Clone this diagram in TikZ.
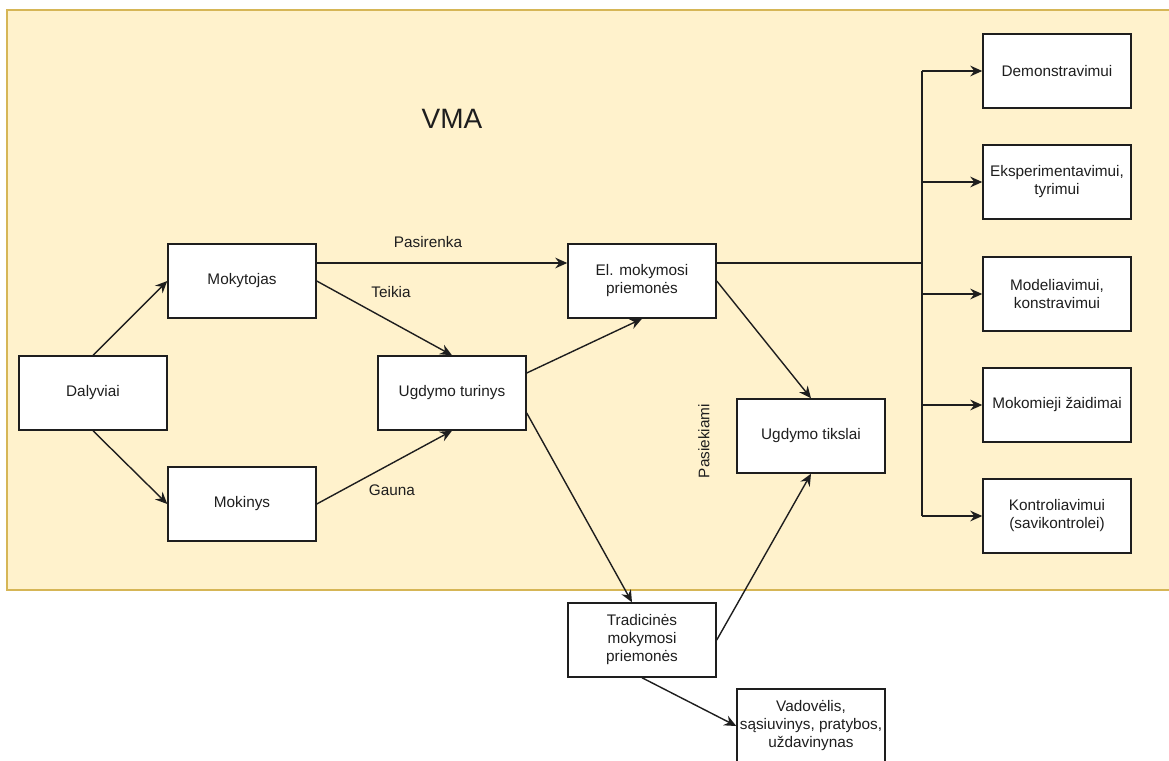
\documentclass[tikz,border=0pt]{standalone}
\usepackage{fontspec}
\setmainfont{Liberation Sans}
\usetikzlibrary{arrows.meta}
\definecolor{panelfill}{HTML}{FFF2CC}
\definecolor{panelline}{HTML}{D6B656}
\definecolor{ink}{HTML}{1E1E1E}
\begin{document}
\begin{tikzpicture}[x=0.75pt,y=-0.75pt,
  box/.style={draw=ink, fill=white, line width=1.1pt, minimum width=111pt,
    minimum height=55.5pt, align=center, inner sep=2pt, text=ink,
    font=\fontsize{11.5}{13.5}\selectfont},
  conn/.style={draw=ink, line width=1.05pt,
    -{Stealth[length=9pt,width=8pt,inset=3pt]}},
  wire/.style={draw=ink, line width=1.05pt},
  lbl/.style={text=ink, font=\fontsize{11.5}{13.5}\selectfont}]

% page frame
\clip (0,0) rectangle (1169,760);
\fill[white] (0,0) rectangle (1169,760);

% VMA panel
\draw[fill=panelfill, draw=panelline, line width=0.9pt] (7,10) rectangle (1180,590);
\node[text=ink, font=\fontsize{21}{24}\selectfont] (title) at (452,119) {VMA};

% main nodes
\node[box] (dal)  at (93,393)  {Dalyviai};
\node[box] (mok)  at (242,281) {Mokytojas};
\node[box] (moki) at (242,504) {Mokinys};
\node[box] (ut)   at (452,393) {Ugdymo turinys};
\node[box] (el)   at (642,281) {El. mokymosi\\priemonės};
\node[box] (tiks) at (811,436) {Ugdymo tikslai};
\node[box] (trad) at (642,640) {Tradicinės\\mokymosi\\priemonės};
\node[box] (vad)  at (811,726) {Vadovėlis,\\sąsiuvinys, pratybos,\\uždavinynas};

% purposes of electronic tools
\node[box] (r1) at (1057,71)  {Demonstravimui};
\node[box] (r2) at (1057,182) {Eksperimentavimui,\\tyrimui};
\node[box] (r3) at (1057,294) {Modeliavimui,\\konstravimui};
\node[box] (r4) at (1057,405) {Mokomieji žaidimai};
\node[box] (r5) at (1057,516) {Kontroliavimui\\(savikontrolei)};

% connectors
\draw[conn] (dal.north) -- (mok.west);
\draw[conn] (dal.south) -- (moki.west);
\draw[conn] ([yshift=13.5pt]mok.east) -- ([yshift=13.5pt]el.west);
\draw[conn] (mok.east) -- (ut.north);
\draw[conn] (moki.east) -- (ut.south);
\draw[conn] ([yshift=15pt]ut.east) -- (el.south);
\draw[conn] ([yshift=-15pt]ut.east) -- ([xshift=-7.5pt]trad.north);
\draw[conn] (el.east) -- (tiks.north);
\draw[conn] (trad.east) -- (tiks.south);
\draw[conn] (trad.south) -- (vad.west);

% branching trunk to the purpose boxes
\coordinate (trunk) at (922,263);
\draw[wire] ([yshift=13.5pt]el.east) -- (trunk);
\draw[wire] (trunk |- r1.west) -- (trunk |- r5.west);
\foreach \r in {r1,r2,r3,r4,r5}
  \draw[conn] (trunk |- \r.west) -- (\r.west);

% connector labels
\node[lbl] (lpas) at (428,242) {Pasirenka};
\node[lbl] (ltei) at (391,292) {Teikia};
\node[lbl] (lgau) at (392,490) {Gauna};
\node[lbl, rotate=90] (lpsk) at (704,441) {Pasiekiami};
\end{tikzpicture}
\end{document}
